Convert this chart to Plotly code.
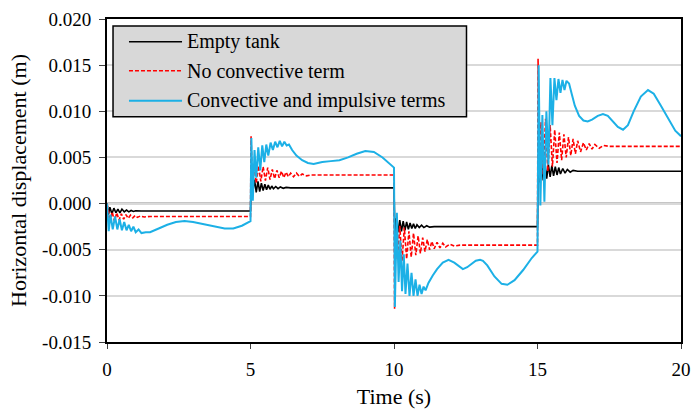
import plotly.graph_objects as go

# ---------------- data ----------------
series_names = ["Empty tank", "No convective term", "Convective and impulsive terms"]

t_empty = [0, 0.05, 0.1, 0.17, 0.24, 0.31, 0.38, 0.45, 0.52, 0.6, 0.68, 0.76, 0.84, 0.92, 1.0, 1.1, 1.2, 5.0,
           5.03, 5.08, 5.14, 5.2, 5.26, 5.32, 5.38, 5.44, 5.5, 5.56, 5.62, 5.68, 5.74, 5.8, 5.88, 5.96, 6.04, 6.14, 6.24, 6.4, 10.0,
           10.03, 10.08, 10.14, 10.2, 10.26, 10.32, 10.38, 10.44, 10.5, 10.56, 10.62, 10.68, 10.74, 10.8, 10.88, 10.96, 11.04, 11.14, 11.24, 11.4, 15.0,
           15.03, 15.08, 15.14, 15.2, 15.26, 15.32, 15.38, 15.44, 15.5, 15.56, 15.62, 15.68, 15.74, 15.8, 15.88, 15.96, 16.04, 16.14, 16.24, 16.4, 20.0]
d_empty = [0, -0.0012, -0.0004, -0.0011, -0.0005, -0.0010, -0.0006, -0.0010, -0.0006, -0.0009, -0.0007, -0.0009, -0.00075, -0.00085, -0.00078, -0.00083, -0.0008, -0.0008,
           0.0028, 0.0012, 0.0026, 0.0012, 0.0024, 0.0013, 0.0022, 0.0014, 0.0021, 0.0015, 0.0020, 0.00155, 0.0019, 0.0016, 0.00185, 0.00162, 0.0018, 0.00165, 0.00175, 0.0017, 0.0017,
           -0.0031, -0.0016, -0.0031, -0.0018, -0.0030, -0.0019, -0.0029, -0.0020, -0.0028, -0.0021, -0.0027, -0.0022, -0.0027, -0.0023, -0.0026, -0.00235, -0.0026, -0.0024, -0.00255, -0.0025, -0.0025,
           0.0047, 0.0023, 0.0046, 0.0025, 0.0044, 0.0027, 0.0042, 0.0029, 0.0041, 0.0030, 0.0040, 0.0031, 0.0039, 0.0032, 0.0038, 0.0033, 0.0037, 0.0034, 0.0036, 0.0035, 0.0035]

t_noconv = [0, 0.04, 0.1, 0.18, 0.26, 0.34, 0.42, 0.5, 0.58, 0.66, 0.74, 0.82, 0.9, 0.98, 1.06, 1.16, 1.3, 1.5, 5.0,
            5.02, 5.06, 5.12, 5.2, 5.28, 5.36, 5.44, 5.52, 5.6, 5.68, 5.76, 5.84, 5.92, 6.0, 6.08, 6.16, 6.24, 6.32, 6.4, 6.5, 6.6, 6.7, 6.8, 6.95, 7.1, 10.0,
            10.02, 10.06, 10.12, 10.2, 10.28, 10.36, 10.44, 10.52, 10.6, 10.68, 10.76, 10.84, 10.92, 11.0, 11.08, 11.16, 11.24, 11.32, 11.4, 11.5, 11.6, 11.7, 11.8, 11.95, 12.1, 12.3, 15.0,
            15.02, 15.06, 15.12, 15.2, 15.28, 15.36, 15.44, 15.52, 15.6, 15.68, 15.76, 15.84, 15.92, 16.0, 16.08, 16.16, 16.24, 16.32, 16.4, 16.5, 16.6, 16.7, 16.8, 16.9, 17.0, 17.15, 17.3, 17.5, 20.0]
d_noconv = [0, -0.0006, -0.0020, -0.0009, -0.0019, -0.0010, -0.0018, -0.0011, -0.0017, -0.0012, -0.0016, -0.00125, -0.00155, -0.0013, -0.0015, -0.00135, -0.00145, -0.0014, -0.0014,
            0.0073, 0.0024, 0.0042, 0.0022, 0.0041, 0.0024, 0.0040, 0.0025, 0.0039, 0.0026, 0.0037, 0.0027, 0.0036, 0.0028, 0.0035, 0.0028, 0.0034, 0.0029, 0.0033, 0.0029, 0.0033, 0.00295, 0.0032, 0.0030, 0.0031, 0.0031,
            -0.0114, -0.0030, -0.0060, -0.0024, -0.0062, -0.0026, -0.0060, -0.0030, -0.0058, -0.0032, -0.0056, -0.0035, -0.0054, -0.0037, -0.0052, -0.0039, -0.0050, -0.0041, -0.0049, -0.0042, -0.0048, -0.0043, -0.0047, -0.0044, -0.0046, -0.0045, -0.0045,
            0.0157, 0.0040, 0.0088, 0.0031, 0.0092, 0.0035, 0.0085, 0.0040, 0.0080, 0.0044, 0.0077, 0.0047, 0.0075, 0.0050, 0.0072, 0.0052, 0.0070, 0.0054, 0.0068, 0.0056, 0.0066, 0.0058, 0.0065, 0.0059, 0.0064, 0.0060, 0.0063, 0.0062, 0.0062]

t_conv = [0, 0.06, 0.12, 0.2, 0.28, 0.36, 0.44, 0.52, 0.6, 0.68, 0.76, 0.84, 0.92, 1.0, 1.1, 1.2, 1.35, 1.5, 1.8, 2.1, 2.4, 2.7, 3.0, 3.3, 3.7, 4.1, 4.4, 4.7, 5.0,
          5.03, 5.08, 5.14, 5.2, 5.27, 5.34, 5.41, 5.48, 5.55, 5.62, 5.7, 5.78, 5.86, 5.94, 6.02, 6.1, 6.18, 6.26, 6.34, 6.45, 6.6, 6.8, 7.0, 7.2, 7.5, 7.8, 8.1, 8.4, 8.7, 9.0, 9.3, 9.6, 9.85, 10.0,
          10.03, 10.1, 10.16, 10.22, 10.28, 10.34, 10.4, 10.47, 10.54, 10.61, 10.68, 10.75, 10.82, 10.89, 10.96, 11.03, 11.1, 11.2, 11.35, 11.5, 11.7, 11.9, 12.1, 12.25, 12.4, 12.55, 12.7, 12.85, 13.0, 13.1, 13.25, 13.5, 13.75, 13.95, 14.2, 14.5, 14.8, 15.0,
          15.04, 15.1, 15.17, 15.24, 15.31, 15.38, 15.45, 15.52, 15.59, 15.66, 15.73, 15.8, 15.87, 15.94, 16.01, 16.1, 16.2, 16.3, 16.45, 16.6, 16.75, 16.9, 17.1, 17.28, 17.45, 17.6, 17.8, 17.98, 18.15, 18.35, 18.6, 18.85, 19.05, 19.3, 19.6, 19.8, 20.0]
d_conv = [0, -0.0030, -0.0012, -0.0028, -0.0014, -0.0028, -0.0017, -0.0029, -0.0020, -0.0029, -0.0023, -0.0030, -0.0025, -0.0031, -0.0028, -0.0032, -0.0031, -0.0031, -0.0027, -0.0023, -0.0020, -0.0019, -0.0020, -0.0022, -0.0025, -0.0027, -0.0027, -0.0024, -0.0019,
          0.0071, 0.0003, 0.0058, 0.0028, 0.0061, 0.0036, 0.0063, 0.0045, 0.0064, 0.0052, 0.0066, 0.0058, 0.0067, 0.0061, 0.0068, 0.0062, 0.0067, 0.0063, 0.0064, 0.0058, 0.0052, 0.0047, 0.0044, 0.0043, 0.0045, 0.0046, 0.0047, 0.0050, 0.0054, 0.0057, 0.0056, 0.0050, 0.0043, 0.0039,
          -0.0112, -0.0010, -0.0085, -0.0040, -0.0095, -0.0055, -0.0098, -0.0065, -0.0100, -0.0075, -0.0100, -0.0082, -0.0100, -0.0088, -0.0098, -0.0090, -0.0094, -0.0086, -0.0078, -0.0071, -0.0064, -0.0061, -0.0064, -0.0068, -0.0071, -0.0069, -0.0065, -0.0062, -0.0061, -0.0062, -0.0067, -0.0079, -0.0087, -0.0088, -0.0083, -0.0072, -0.0059, -0.0052,
          0.0150, -0.0002, 0.0096, 0.0002, 0.0100, 0.0042, 0.0136, 0.0085, 0.0136, 0.0112, 0.0135, 0.0120, 0.0134, 0.0123, 0.0133, 0.0130, 0.0118, 0.0106, 0.0095, 0.0090, 0.0089, 0.0091, 0.0095, 0.0097, 0.0095, 0.0090, 0.0083, 0.0080, 0.0085, 0.0100, 0.0116, 0.0123, 0.0119, 0.0106, 0.0089, 0.0079, 0.0073]

x_ticks = [0, 5, 10, 15, 20]
y_ticks = [-0.015, -0.010, -0.005, 0.000, 0.005, 0.010, 0.015, 0.020]
y_tick_labels = ["-0.015", "-0.010", "-0.005", "0.000", "0.005", "0.010", "0.015", "0.020"]

colors = ["#000000", "#ff0000", "#1cb0e6"]
dashes = ["solid", "4px,2px", "solid"]
widths = [1.6, 1.6, 2.0]

FONT = "Liberation Serif, Times New Roman, serif"

fig = go.Figure()
for name, tx, ty, c, d, w in zip(series_names,
                                 [t_empty, t_noconv, t_conv],
                                 [d_empty, d_noconv, d_conv],
                                 colors, dashes, widths):
    fig.add_trace(go.Scatter(x=tx, y=ty, mode="lines", name=name,
                             line=dict(color=c, width=w, dash=d),
                             showlegend=False))

# zero line drawn as a darker horizontal gridline
fig.add_hline(y=0, line=dict(color="#8c8c8c", width=2), layer="below")

# manual legend (box, samples, labels)
leg_x0, leg_x1, leg_y0, leg_y1 = 0.0105, 0.6263, 0.6975, 0.978
fig.add_shape(type="rect", xref="x domain", yref="y domain",
              x0=leg_x0, x1=leg_x1, y0=leg_y0, y1=leg_y1,
              fillcolor="#d8d8d8", line=dict(color="#000000", width=1.5))
row_y = [0.9297, 0.8399, 0.7471]
for name, c, d, w, ry in zip(series_names, colors, dashes, widths, row_y):
    fig.add_shape(type="line", xref="x domain", yref="y domain",
                  x0=0.0383, x1=0.1307, y0=ry, y1=ry,
                  line=dict(color=c, width=w, dash=d))
    fig.add_annotation(xref="x domain", yref="y domain", x=0.1362, y=ry,
                       text=name, showarrow=False, xanchor="left", yanchor="middle",
                       font=dict(family=FONT, size=20, color="#000000"))

fig.update_layout(
    width=691, height=413,
    margin=dict(l=107, r=10, t=19, b=71, autoexpand=False),
    paper_bgcolor="white", plot_bgcolor="white",
    font=dict(family=FONT, size=19, color="#000000"),
)
fig.update_xaxes(
    range=[0, 20], tickvals=x_ticks, ticktext=[str(v) for v in x_ticks],
    showgrid=False, zeroline=False, automargin=False,
    showline=True, linecolor="#000000", linewidth=2, mirror=True,
    ticks="outside", ticklen=5, tickcolor="#404040", ticklabelstandoff=4,
    title=dict(text="Time (s)", font=dict(size=22), standoff=10),
    tickfont=dict(size=19),
)
fig.update_yaxes(
    range=[-0.015, 0.020], tickvals=y_ticks, ticktext=y_tick_labels,
    showgrid=True, gridcolor="#d9d9d9", gridwidth=1.5, zeroline=False, automargin=False,
    showline=True, linecolor="#000000", linewidth=2, mirror=True,
    ticks="outside", ticklen=6, tickcolor="#404040", ticklabelstandoff=4,
    title=dict(text="Horizontal displacement (m)", font=dict(size=22), standoff=9),
    tickfont=dict(size=19),
)

fig.write_html("out.html", config={"displayModeBar": False},
               post_script="document.body.style.margin='0';document.body.style.padding='0';")
